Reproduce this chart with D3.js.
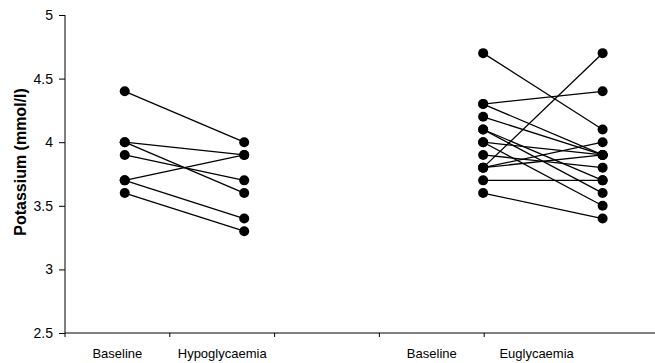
<!DOCTYPE html>
<html>
<head>
<script src="https://cdn.jsdelivr.net/npm/d3@7"></script>
<style>
body { margin: 0; background: #fff; }
text { font-family: "Liberation Sans", Arial, sans-serif; fill: #000; }
</style>
</head>
<body>
<script>
// category labels along the bottom (third slot is an empty gap)
var categories = ["Baseline", "Hypoglycaemia", "", "Baseline ", "Euglycaemia"];
var yTicks = [2.5, 3, 3.5, 4, 4.5, 5];

// hypoglycaemia study: baseline -> hypoglycaemia, one pair per subject
var hypoBase = [4.4, 4.0, 4.0, 3.9, 3.7, 3.7, 3.6];
var hypoEnd  = [4.0, 3.9, 3.6, 3.7, 3.9, 3.4, 3.3];

// euglycaemia study: baseline -> euglycaemia
var euBase = [4.7, 4.3, 4.3, 4.2, 4.1, 4.1, 4.0, 4.0, 3.9, 3.8, 3.8, 3.8, 3.7, 3.6];
var euEnd  = [4.1, 4.4, 3.9, 3.9, 3.7, 3.6, 3.9, 3.5, 3.8, 4.7, 4.0, 3.9, 3.7, 3.4];

var width = 655, height = 363;
var padL = 65, padT = 15, axisY = 333;
var catW = 104.8;
// where the dot columns sit, in category units
var colPos = [0.57, 1.71, 3.99, 5.13];

var svg = d3.select("body").append("svg")
	.attr("width", width)
	.attr("height", height);

var y = d3.scaleLinear().domain([2.5, 5]).range([axisY, padT]);
var x = d3.scaleLinear().domain([0, categories.length]).range([padL, padL + catW * categories.length]);
var xb = d3.scaleBand().domain(categories).range([padL, padL + catW * categories.length]);

// y axis
var yAxis = svg.append("g")
	.attr("transform", "translate(" + padL + ",0)")
	.call(d3.axisLeft(y).tickValues(yTicks).tickSize(6).tickPadding(6).tickFormat(d3.format("")));
yAxis.select(".domain").attr("d", "M0," + padT + "V" + axisY);
yAxis.selectAll("text").style("font-size", "14px");

// x axis line runs to the page edge
svg.append("line")
	.attr("x1", padL).attr("x2", width)
	.attr("y1", axisY).attr("y2", axisY)
	.attr("stroke", "#000");

svg.selectAll(".xtick")
	.data(d3.range(categories.length))
	.enter().append("line")
	.attr("x1", function(d){ return x(d); })
	.attr("x2", function(d){ return x(d); })
	.attr("y1", axisY).attr("y2", axisY + 4)
	.attr("stroke", "#000");

svg.selectAll(".xlab")
	.data(categories)
	.enter().append("text")
	.attr("x", function(d){ return xb(d) + xb.bandwidth() / 2; })
	.attr("y", axisY + 25)
	.attr("text-anchor", "middle")
	.style("font-size", "13px")
	.text(function(d){ return d.trim(); });

// y title
svg.append("text")
	.attr("transform", "translate(20,162) rotate(-90)")
	.attr("text-anchor", "middle")
	.attr("dy", "0.35em")
	.style("font-size", "16px")
	.style("font-weight", "bold")
	.text("Potassium (mmol/l)");

function drawPairs(base, end, c0, c1){
	var pairs = base.map(function(b, i){ return {b: b, e: end[i]}; });
	svg.append("g").selectAll("line")
		.data(pairs)
		.enter().append("line")
		.attr("x1", x(c0)).attr("x2", x(c1))
		.attr("y1", function(d){ return y(d.b); })
		.attr("y2", function(d){ return y(d.e); })
		.attr("stroke", "#000")
		.attr("stroke-width", 1.3);
	var g = svg.append("g");
	g.selectAll(".b").data(base).enter().append("circle")
		.attr("cx", x(c0)).attr("cy", function(d){ return y(d); }).attr("r", 5);
	g.selectAll(".e").data(end).enter().append("circle")
		.attr("cx", x(c1)).attr("cy", function(d){ return y(d); }).attr("r", 5);
}

drawPairs(hypoBase, hypoEnd, colPos[0], colPos[1]);
drawPairs(euBase, euEnd, colPos[2], colPos[3]);
</script>
</body>
</html>
